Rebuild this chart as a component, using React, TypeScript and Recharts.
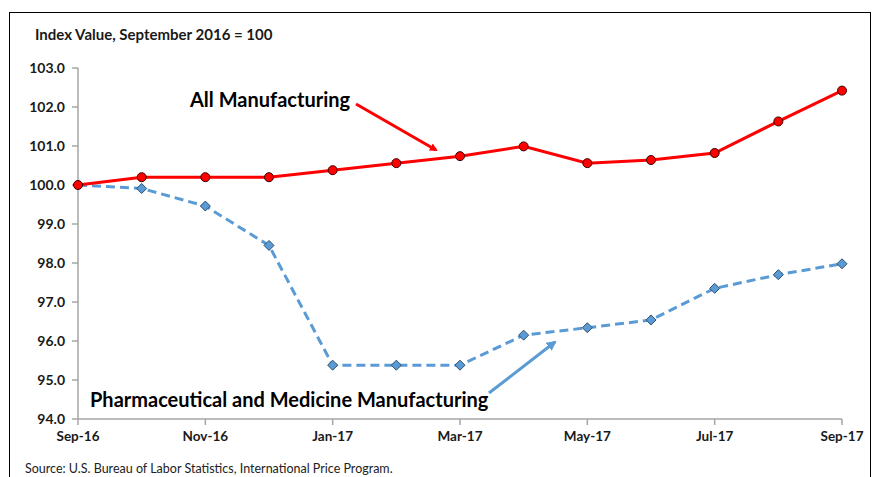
import React from 'react';
import { LineChart, Line, XAxis, YAxis, Customized } from 'recharts';

const months = ['Sep-16', 'Oct-16', 'Nov-16', 'Dec-16', 'Jan-17', 'Feb-17', 'Mar-17', 'Apr-17', 'May-17', 'Jun-17', 'Jul-17', 'Aug-17', 'Sep-17'];
const allManufacturing = [100.0, 100.2, 100.2, 100.2, 100.38, 100.56, 100.74, 100.99, 100.56, 100.64, 100.82, 101.63, 102.42];
const pharma = [100.0, 99.91, 99.46, 98.45, 95.38, 95.38, 95.38, 96.15, 96.34, 96.54, 97.35, 97.7, 97.98];
const yTicks = [94, 95, 96, 97, 98, 99, 100, 101, 102, 103];

const data = months.map((m, i) => ({ month: m, all: allManufacturing[i], pharma: pharma[i] }));

const FONT = 'Lato, "Open Sans", sans-serif';

const Diamond = (props: any) => {
  const { cx, cy } = props;
  if (cx == null || cy == null) return null;
  const r = 5;
  return (
    <polygon
      points={`${cx},${cy - r} ${cx + r},${cy} ${cx},${cy + r} ${cx - r},${cy}`}
      fill="#5B9BD5"
      stroke="#2F4F6F"
      strokeWidth={1}
    />
  );
};

const Annotations = () => (
  <g>
    <defs>
      <marker id="arrRed" markerWidth="8" markerHeight="8" refX="6" refY="4" orient="auto" markerUnits="userSpaceOnUse">
        <path d="M0,0 L8,4 L0,8 z" fill="#FF0000" />
      </marker>
      <marker id="arrBlue" markerWidth="10" markerHeight="10" refX="8" refY="5" orient="auto" markerUnits="userSpaceOnUse">
        <path d="M0,0 L10,5 L0,10 z" fill="#5B9BD5" />
      </marker>
    </defs>
    <text x={190} y={107} fontFamily={FONT} fontWeight={700} fontSize={20} fill="#000">All Manufacturing</text>
    <line x1={356} y1={104} x2={436} y2={150} stroke="#FF0000" strokeWidth={3} markerEnd="url(#arrRed)" />
    <text x={90} y={407} fontFamily={FONT} fontWeight={700} fontSize={20} fill="#000">Pharmaceutical and Medicine Manufacturing</text>
    <line x1={489} y1={393} x2={555} y2={342} stroke="#5B9BD5" strokeWidth={3} markerEnd="url(#arrBlue)" />
  </g>
);

export default function App() {
  return (
    <div style={{ position: 'absolute', left: 0, top: 0, width: 874, height: 477, background: '#fff', overflow: 'hidden' }}>
      <div style={{ position: 'absolute', left: 9, top: 12, width: 860, height: 480, border: '1.5px solid #000' }} />
      <div style={{ position: 'absolute', left: 35, top: 25, fontFamily: FONT, fontWeight: 700, fontSize: 15, color: '#1a1a1a' }}>
        Index Value, September 2016 = 100
      </div>
      <div style={{ position: 'absolute', left: 25, top: 461, fontFamily: FONT, fontSize: 12.5, color: '#222' }}>
        Source: U.S. Bureau of Labor Statistics, International Price Program.
      </div>
      <div style={{ position: 'absolute', left: 0, top: 0 }}>
        <LineChart width={874} height={477} data={data} margin={{ top: 68, right: 32, bottom: 28, left: 0 }}>
          <XAxis
            dataKey="month"
            interval={1}
            height={30}
            axisLine={{ stroke: '#A6A6A6', strokeWidth: 1.5 }}
            tickLine={{ stroke: '#A6A6A6', strokeWidth: 1.5 }}
            tickSize={6}
            tickMargin={6}
            tick={{ fontFamily: FONT, fontWeight: 700, fontSize: 13.5, fill: '#1a1a1a' }}
          />
          <YAxis
            domain={[94, 103]}
            ticks={yTicks}
            width={78}
            interval={0}
            tickFormatter={(v: number) => v.toFixed(1)}
            axisLine={{ stroke: '#A6A6A6', strokeWidth: 1.5 }}
            tickLine={{ stroke: '#A6A6A6', strokeWidth: 1.5 }}
            tickSize={6}
            tickMargin={7}
            tick={{ fontFamily: FONT, fontWeight: 700, fontSize: 14, fill: '#1a1a1a' }}
          />
          <Line
            type="linear"
            dataKey="pharma"
            stroke="#5B9BD5"
            strokeWidth={3}
            strokeDasharray="9 5"
            dot={<Diamond />}
            activeDot={false}
            isAnimationActive={false}
          />
          <Line
            type="linear"
            dataKey="all"
            stroke="#FF0000"
            strokeWidth={3}
            dot={{ r: 4.5, fill: '#FF0000', stroke: '#3a0000', strokeWidth: 1 }}
            activeDot={false}
            isAnimationActive={false}
          />
          <Customized component={Annotations} />
        </LineChart>
      </div>
    </div>
  );
}
